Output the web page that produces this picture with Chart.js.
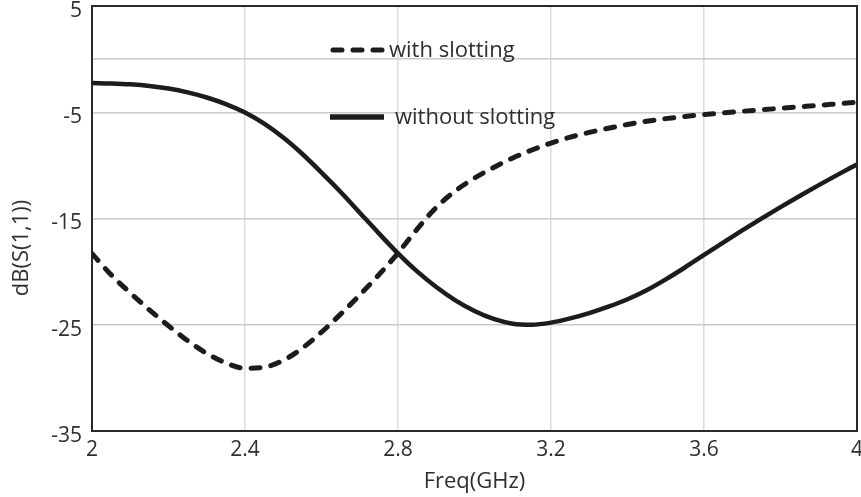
<!DOCTYPE html>
<html>
<head>
<meta charset="utf-8">
<script src="https://cdn.jsdelivr.net/npm/chart.js@4/dist/chart.umd.min.js"></script>
<style>
  html, body { margin: 0; padding: 0; background: #fff; }
  #wrap { width: 861px; height: 497px; }
</style>
</head>
<body>
<div id="wrap"><canvas id="s11Chart"></canvas></div>
<script>
/*
* return loss data; frequency in GHz, values in dB.
*/
const freqGHz = [2.0, 2.05, 2.1, 2.15, 2.2, 2.25, 2.3, 2.35, 2.4, 2.45, 2.5, 2.55, 2.6, 2.65,
   2.7, 2.75, 2.8, 2.85, 2.9, 2.95, 3.0, 3.05, 3.1, 3.15, 3.2, 3.25, 3.3, 3.35, 3.4, 3.45,
   3.5, 3.55, 3.6, 3.65, 3.7, 3.75, 3.8, 3.85, 3.9, 3.95, 4.0];
const withSlotting = [-18.3, -20.3, -22.0, -23.6, -25.1, -26.5, -27.7, -28.6, -29.1, -29.0,
   -28.35, -27.2, -25.7, -24.0, -22.2, -20.3, -18.25, -16.0, -13.95, -12.4, -11.2, -10.2,
   -9.3, -8.55, -7.9, -7.35, -6.9, -6.5, -6.15, -5.85, -5.6, -5.4, -5.22, -5.06, -4.91,
   -4.77, -4.63, -4.49, -4.35, -4.2, -4.05];
const withoutSlotting = [-2.25, -2.29, -2.37, -2.52, -2.77, -3.13, -3.61, -4.23, -5.03, -6.08,
   -7.38, -8.93, -10.68, -12.5, -14.45, -16.4, -18.28, -19.98, -21.45, -22.7, -23.7,
   -24.45, -24.9, -25.0, -24.8, -24.4, -23.9, -23.3, -22.6, -21.75, -20.73, -19.61,
   -18.43, -17.26, -16.12, -15.01, -13.93, -12.88, -11.86, -10.87, -9.91];

const xTickValues = [2, 2.4, 2.8, 3.2, 3.6, 4];
const yTickValues = [5, 0, -5, -15, -25, -35];
const yTickLabels = [5, -5, -15, -25, -35];
const yGridValues = [0, -5, -15, -25];

const legendItems = [
   { label: 'with slotting', dashed: true },
   { label: 'without slotting', dashed: false }
];

const textColor = '#2e2e2e';
const lineColor = '#1c1c1c';

Chart.defaults.font.family = "'Open Sans', sans-serif";
Chart.defaults.font.size = 21;
Chart.defaults.color = textColor;

/*
* draws the plot frame, the in-plot legend and the rotated y title.
*/
const decorPlugin = {
   id: 'decor',
   beforeDatasetsDraw(chart) {
      const { ctx, chartArea } = chart;
      ctx.save();
      ctx.strokeStyle = '#2a2a2a';
      ctx.lineWidth = 2;
      ctx.strokeRect(chartArea.left, chartArea.top,
         chartArea.right - chartArea.left, chartArea.bottom - chartArea.top);
      ctx.restore();
   },
   afterDraw(chart) {
      const { ctx, chartArea } = chart;
      ctx.save();

      // legend, sitting inside the plot
      const sx = chartArea.left + 240;
      const rows = [chartArea.top + 44, chartArea.top + 111];
      legendItems.forEach((item, i) => {
         const y = rows[i];
         ctx.strokeStyle = lineColor;
         ctx.lineWidth = item.dashed ? 5 : 5.5;
         ctx.lineCap = item.dashed ? 'round' : 'butt';
         ctx.setLineDash(item.dashed ? [9, 11] : []);
         ctx.beginPath();
         ctx.moveTo(sx + (item.dashed ? 1 : -2), y);
         ctx.lineTo(sx + 52, y);
         ctx.stroke();
         ctx.setLineDash([]);
         ctx.fillStyle = textColor;
         ctx.font = "22px 'Open Sans', sans-serif";
         ctx.textBaseline = 'middle';
         ctx.textAlign = 'left';
         ctx.fillText(item.label, sx + (item.dashed ? 57 : 63), y + 1);
      });

      // y axis title
      ctx.translate(22, 248);
      ctx.rotate(-Math.PI / 2);
      ctx.textAlign = 'center';
      ctx.textBaseline = 'middle';
      ctx.font = "22px 'Open Sans', sans-serif";
      ctx.fillStyle = textColor;
      ctx.fillText('dB(S(1,1))', 0, 0);
      ctx.restore();
   }
};

function buildChart() {
   const canvas = document.querySelector('#s11Chart');

   const chartData = {
      datasets: [{
         label: 'with slotting',
         data: freqGHz.map((f, i) => ({ x: f, y: withSlotting[i] })),
         borderColor: lineColor,
         borderWidth: 5,
         borderDash: [9, 11],
         borderCapStyle: 'round',
         cubicInterpolationMode: 'monotone',
         pointRadius: 0,
         fill: false
      }, {
         label: 'without slotting',
         data: freqGHz.map((f, i) => ({ x: f, y: withoutSlotting[i] })),
         borderColor: lineColor,
         borderWidth: 4.5,
         cubicInterpolationMode: 'monotone',
         pointRadius: 0,
         fill: false
      }]
   };

   const chartOptions = {
      responsive: true,
      maintainAspectRatio: false,
      animation: false,
      layout: {
         padding: { left: 0, right: 4, top: 6, bottom: 0 }
      },
      scales: {
         x: {
            type: 'linear',
            min: 2,
            max: 4,
            afterBuildTicks: scale => {
               scale.ticks = xTickValues.map(v => ({ value: v }));
            },
            afterFit: scale => {
               scale.paddingLeft = 0;
               scale.paddingRight = 0;
               scale.height = 66;
            },
            border: { display: false },
            grid: {
               drawTicks: false,
               lineWidth: 1.5,
               color: ctx => (ctx.tick && (ctx.tick.value === 2 || ctx.tick.value === 4))
                  ? 'rgba(0,0,0,0)' : '#dcdcdc'
            },
            ticks: {
               autoSkip: false,
               maxRotation: 0,
               padding: 6,
               callback: value => String(value)
            },
            title: {
               display: true,
               text: 'Freq(GHz)',
               font: { size: 22 },
               padding: { top: 0, bottom: 2 }
            }
         },
         y: {
            min: -35,
            max: 5,
            afterBuildTicks: scale => {
               scale.ticks = yTickValues.map(v => ({ value: v }));
            },
            afterFit: scale => {
               scale.width = 92;
               scale.paddingTop = 0;
               scale.paddingBottom = 0;
            },
            border: { display: false },
            grid: {
               drawTicks: false,
               lineWidth: 1.5,
               color: ctx => (ctx.tick && yGridValues.includes(ctx.tick.value))
                  ? '#c9c9c9' : 'rgba(0,0,0,0)'
            },
            ticks: {
               autoSkip: false,
               padding: 10,
               labelOffset: 5,
               callback: value => yTickLabels.includes(value) ? String(value) : ''
            }
         }
      },
      plugins: {
         legend: { display: false },
         tooltip: { enabled: false }
      }
   };

   return new Chart(canvas, {
      type: 'line',
      data: chartData,
      options: chartOptions,
      plugins: [decorPlugin]
   });
}

buildChart();
</script>
</body>
</html>
